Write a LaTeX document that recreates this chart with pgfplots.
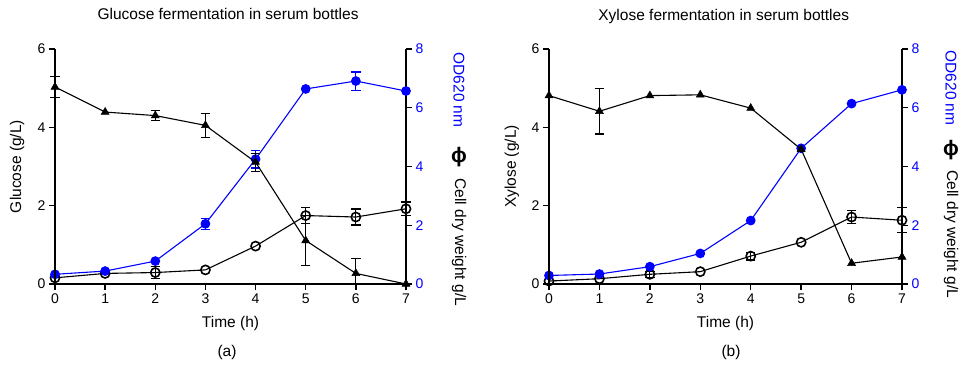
\documentclass[border=0pt]{standalone}
\usepackage{fontspec}
\setmainfont{Liberation Sans}
\usepackage{pgfplots}
\pgfplotsset{compat=1.18}
\definecolor{odblue}{RGB}{0,0,255}
\pgfplotsset{
  base/.style={scale only axis, height=235pt, xmin=0, xmax=7, ymin=0, clip=false,
    tick align=outside, major tick length=6pt,
    tick style={line width=1.3pt, black},
    axis line style={line width=1.5pt},
    ticklabel style={font=\fontsize{14}{16}\selectfont},
    /pgf/number format/assume math mode=true,
    label style={font=\fontsize{15.5}{18}\selectfont},
    title style={font=\fontsize{15.5}{18}\selectfont},
  },
  errs/.style={only marks, mark=*, mark size=0.1pt, forget plot, #1,
    mark options={draw opacity=0, fill opacity=0},
    error bars/.cd, y dir=both, y explicit,
    error mark=-,
    error bar style={#1, line width=1.2pt, solid, draw opacity=1},
    error mark options={#1, line width=1.2pt, mark size=4.7pt, solid, rotate=90, draw opacity=1, fill opacity=1}},
  errs/.default=black,
  tri/.style={black, line width=1.1pt, mark=triangle*, mark size=4.6pt, mark options={solid, line width=0.5pt}},
  cdw/.style={black, line width=1.1pt, mark=o, mark size=4.6pt, mark options={solid, line width=1.6pt}},
  od/.style={odblue, line width=1.1pt, mark=*, mark size=4.3pt, mark options={solid}},
  rightax/.style={base, axis y line*=right, axis x line=none, ymax=8, ytick={0,2,4,6,8},
    yticklabel style={text=odblue}},
  leftax/.style={base, axis y line*=left, axis x line*=bottom, ymax=6, ytick={0,2,4,6},
    xtick={0,1,...,7},
    xlabel={Time (h)},
    xlabel style={at={(axis description cs:0.5,-0.170)}, anchor=center},
  },
}
\begin{document}
\begin{tikzpicture}
\useasboundingbox (0pt,0pt) rectangle (960pt,364pt);
% ---------------- Panel (a) ----------------
\begin{axis}[rightax, width=351pt, at={(55pt,80pt)}, anchor=south west]
  \addplot[cdw] coordinates {(0,0.21) (1,0.36) (2,0.39) (3,0.48) (4,1.29) (5,2.33) (6,2.28) (7,2.56)};
  \addplot[errs] coordinates {(2,0.39) +- (0,0.21) (5,2.33) +- (0,0.28) (6,2.28) +- (0,0.27) (7,2.56) +- (0,0.23)};
  \addplot[od] coordinates {(0,0.33) (1,0.44) (2,0.78) (3,2.05) (4,4.25) (5,6.64) (6,6.91) (7,6.57)};
  \addplot[errs=odblue] coordinates {(3,2.05) +- (0,0.19) (4,4.25) +- (0,0.30) (6,6.91) +- (0,0.31)};
\end{axis}
\begin{axis}[leftax, width=351pt, at={(55pt,80pt)}, anchor=south west,
  ylabel={Glucose (g/L)},
  ylabel style={at={(axis description cs:-0.108,0.5)}, anchor=center},
  title={Glucose fermentation in serum bottles},
  title style={at={(axis description cs:0.493,1.123)}, anchor=center}]
  \addplot[tri] coordinates {(0,5.03) (1,4.39) (2,4.30) (3,4.05) (4,3.11) (5,1.11) (6,0.27) (7,0)};
  \addplot[errs] coordinates {(0,5.03) +- (0,0.26) (2,4.30) +- (0,0.13) (3,4.05) +- (0,0.31) (4,3.11) +- (0,0.23) (5,1.11) +- (0,0.64) (6,0.27) += (0,0.38) -= (0,0.27)};
\end{axis}
\node[rotate=-90, anchor=west, text=odblue, font=\fontsize{15.5}{18}\selectfont] at (459pt,315pt) {OD620 nm};
\node[font=\fontsize{21}{22}\selectfont\bfseries] at (459pt,207pt) {ϕ};
\node[rotate=-90, anchor=west, font=\fontsize{15.5}{18}\selectfont] at (459pt,189pt) {Cell dry weight g/L};
\node[font=\fontsize{15.5}{18}\selectfont] at (227pt,12pt) {(a)};
% ---------------- Panel (b) ----------------
\begin{axis}[rightax, width=353pt, at={(549pt,80pt)}, anchor=south west]
  \addplot[cdw] coordinates {(0,0.10) (1,0.18) (2,0.33) (3,0.42) (4,0.95) (5,1.42) (6,2.28) (7,2.17)};
  \addplot[errs] coordinates {(2,0.33) +- (0,0.10) (4,0.95) +- (0,0.13) (6,2.28) +- (0,0.23) (7,2.17) +- (0,0.43)};
  \addplot[od] coordinates {(0,0.29) (1,0.34) (2,0.59) (3,1.04) (4,2.16) (5,4.62) (6,6.14) (7,6.61)};
\end{axis}
\begin{axis}[leftax, width=353pt, at={(549pt,80pt)}, anchor=south west,
  ylabel={Xylose (g/L)},
  ylabel style={at={(axis description cs:-0.105,0.5)}, anchor=center},
  title={Xylose fermentation in serum bottles},
  title style={at={(axis description cs:0.495,1.113)}, anchor=center}]
  \addplot[tri] coordinates {(0,4.81) (1,4.41) (2,4.81) (3,4.83) (4,4.49) (5,3.44) (6,0.53) (7,0.69)};
  \addplot[errs] coordinates {(1,4.41) +- (0,0.58)};
\end{axis}
\node[rotate=-90, anchor=west, text=odblue, font=\fontsize{15.5}{18}\selectfont] at (951pt,317pt) {OD620 nm};
\node[font=\fontsize{21}{22}\selectfont\bfseries] at (951pt,214pt) {ϕ};
\node[rotate=-90, anchor=west, font=\fontsize{15.5}{18}\selectfont] at (951pt,197pt) {Cell dry weight g/L};
\node[font=\fontsize{15.5}{18}\selectfont] at (731pt,12pt) {(b)};
\end{tikzpicture}
\end{document}
